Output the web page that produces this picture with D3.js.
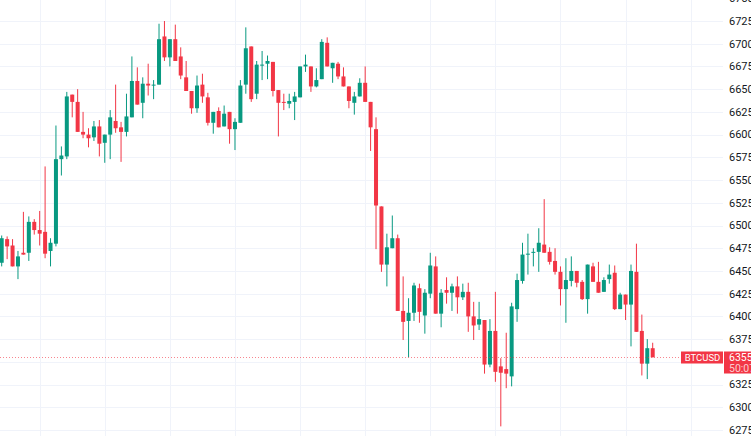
<!DOCTYPE html>
<html>
<head>
<meta charset="utf-8">
<script src="https://cdn.jsdelivr.net/npm/d3@7"></script>
<style>
  body { margin: 0; background: #fff; }
  svg { display: block; font-family: Roboto, "Noto Sans", sans-serif; }
</style>
</head>
<body>
<svg id="chart" width="751" height="436"></svg>
<script>
// candle data, one value per bar
var opens = [6459,6485,6478,6455,6470,6470,6504,6495,6493,6472,6480,6573,6576,6644,6636,6603,6600,6597,6609,6591,
  6600,6615,6608,6603,6619,6659,6635,6656,6654,6655,6708,6685,6705,6686,6663,6648,6629,6655,6641,6613,
  6626,6609,6625,6606,6613,6655,6697,6645,6676,6678,6680,6649,6636,6634,6636,6641,6675,6675,6653,6661,
  6701,6673,6678,6664,6653,6635,6642,6657,6636,6606,6521,6457,6475,6486,6406,6395,6404,6431,6401,6425,
  6455,6403,6429,6426,6433,6421,6427,6400,6391,6396,6347,6384,6345,6342,6334,6408,6439,6468,6470,6471,
  6479,6471,6461,6449,6430,6439,6450,6438,6419,6455,6438,6427,6441,6448,6408,6424,6413,6449,6384,6348,6365];
var highs = [6489,6488,6485,6472,6515,6510,6507,6516,6565,6486,6610,6587,6647,6644,6650,6625,6607,6615,6616,6600,
  6627,6655,6614,6645,6686,6674,6663,6678,6660,6722,6725,6705,6721,6696,6681,6648,6665,6667,6646,6625,
  6630,6632,6625,6618,6660,6718,6697,6681,6692,6687,6680,6649,6645,6645,6647,6675,6688,6675,6673,6705,
  6707,6679,6680,6674,6653,6647,6662,6675,6636,6619,6521,6491,6511,6490,6444,6420,6437,6436,6430,6470,
  6466,6430,6443,6436,6444,6436,6437,6416,6416,6396,6397,6427,6354,6382,6415,6447,6481,6491,6475,6497,
  6529,6476,6475,6455,6464,6466,6450,6440,6457,6459,6460,6443,6457,6456,6426,6424,6457,6480,6402,6375,6371];
var lows = [6455,6463,6455,6441,6468,6461,6490,6478,6464,6455,6477,6555,6573,6619,6603,6596,6586,6593,6576,6569,
  6573,6602,6570,6598,6619,6633,6618,6643,6639,6655,6681,6675,6681,6661,6648,6623,6624,6635,6610,6601,
  6608,6609,6590,6583,6613,6645,6636,6639,6660,6661,6642,6598,6627,6629,6616,6641,6669,6647,6652,6661,
  6675,6657,6661,6653,6629,6622,6642,6636,6582,6474,6449,6433,6475,6406,6374,6355,6395,6393,6381,6420,
  6403,6388,6414,6406,6403,6418,6383,6374,6385,6337,6344,6328,6279,6321,6323,6394,6436,6446,6455,6449,
  6470,6457,6446,6412,6393,6433,6432,6418,6403,6438,6426,6427,6436,6407,6408,6396,6367,6383,6335,6331,6355];
var closes = [6486,6477,6455,6466,6468,6504,6495,6491,6469,6481,6573,6577,6642,6636,6603,6600,6596,6609,6590,6600,
  6619,6607,6603,6620,6659,6633,6656,6654,6655,6705,6685,6705,6681,6665,6648,6629,6654,6642,6613,6625,
  6608,6623,6606,6614,6654,6695,6639,6677,6677,6681,6648,6635,6635,6637,6642,6675,6677,6653,6660,6702,
  6675,6679,6664,6653,6637,6642,6657,6636,6608,6522,6457,6476,6486,6406,6394,6404,6434,6405,6426,6456,
  6403,6426,6426,6433,6421,6427,6400,6390,6397,6347,6384,6339,6338,6337,6411,6440,6468,6469,6471,6481,
  6470,6460,6449,6430,6440,6450,6437,6419,6457,6438,6426,6440,6446,6408,6424,6413,6450,6383,6348,6365,6355];

var priceTicks = d3.range(6275, 6751, 25);
var symbol = 'BTCUSD';
var lastPrice = 6355;
var countdown = '50:07';

var width = 751,
    height = 436,
    plotRight = 723;

var upColor = '#089981',
    downColor = '#F23645',
    gridColor = '#F0F3FA';

var svg = d3.select('#chart');

var x = d3.scaleLinear()
    .domain([0, opens.length - 1])
    .range([1.7, 652.7]);

var y = d3.scaleLinear()
    .domain([6275, 6725])
    .range([430, 21]);

// grid
var grid = svg.append('g').attr('class', 'grid');

grid.selectAll('.hgrid')
    .data(priceTicks)
    .enter().append('line')
    .attr('x1', 0)
    .attr('x2', plotRight)
    .attr('y1', function(d) { return Math.round(y(d)) + 0.5; })
    .attr('y2', function(d) { return Math.round(y(d)) + 0.5; })
    .attr('stroke', gridColor);

// vertical lines every 12 bars
var timeMarks = d3.range(7, 130, 12);
grid.selectAll('.vgrid')
    .data(timeMarks)
    .enter().append('line')
    .attr('x1', function(d) { return Math.round(x(d)) + 0.5; })
    .attr('x2', function(d) { return Math.round(x(d)) + 0.5; })
    .attr('y1', 0)
    .attr('y2', height)
    .attr('stroke', gridColor);

// candles
var candles = svg.append('g').attr('class', 'candles')
    .selectAll('g')
    .data(d3.range(opens.length))
    .enter().append('g');

function colorOf(i) {
    return closes[i] >= opens[i] ? upColor : downColor;
}

candles.append('line')
    .attr('x1', function(i) { return x(i); })
    .attr('x2', function(i) { return x(i); })
    .attr('y1', function(i) { return y(highs[i]); })
    .attr('y2', function(i) { return y(lows[i]); })
    .attr('stroke', colorOf)
    .attr('stroke-width', 1);

candles.append('rect')
    .attr('x', function(i) { return x(i) - 2; })
    .attr('width', 4)
    .attr('y', function(i) { return y(Math.max(opens[i], closes[i])); })
    .attr('height', function(i) { return Math.max(1, Math.abs(y(opens[i]) - y(closes[i]))); })
    .attr('fill', colorOf);

// last price line
var py = Math.round(y(lastPrice)) + 0.5;
svg.append('line')
    .attr('x1', 0)
    .attr('x2', 681)
    .attr('y1', py)
    .attr('y2', py)
    .attr('stroke', downColor)
    .attr('stroke-opacity', 0.6)
    .attr('stroke-width', 1)
    .attr('stroke-dasharray', '1,2');

// price axis labels, the one under the price badge is hidden
svg.append('g').attr('class', 'price-axis')
    .selectAll('text')
    .data(priceTicks.filter(function(d) { return Math.abs(y(d) - py) > 12; }))
    .enter().append('text')
    .attr('x', 729)
    .attr('y', function(d) { return y(d); })
    .attr('dy', '0.35em')
    .attr('font-size', 11)
    .attr('fill', '#131722')
    .text(function(d) { return d; });

// symbol badge
svg.append('rect')
    .attr('x', 681)
    .attr('y', py - 6)
    .attr('width', 42)
    .attr('height', 12)
    .attr('fill', downColor);

svg.append('text')
    .attr('x', 702.5)
    .attr('y', py)
    .attr('dy', '0.36em')
    .attr('text-anchor', 'middle')
    .attr('font-size', 9.5)
    .attr('fill', '#fff')
    .text(symbol);

// last price badge on the axis
svg.append('rect')
    .attr('x', plotRight + 1)
    .attr('y', py - 6)
    .attr('width', 40)
    .attr('height', 22)
    .attr('fill', downColor);

svg.append('text')
    .attr('x', 729)
    .attr('y', py)
    .attr('dy', '0.35em')
    .attr('font-size', 10.5)
    .attr('fill', '#fff')
    .text(lastPrice);

svg.append('text')
    .attr('x', 729)
    .attr('y', py + 11)
    .attr('dy', '0.35em')
    .attr('font-size', 10.5)
    .attr('fill', '#fff')
    .attr('fill-opacity', 0.75)
    .text(countdown);
</script>
</body>
</html>
